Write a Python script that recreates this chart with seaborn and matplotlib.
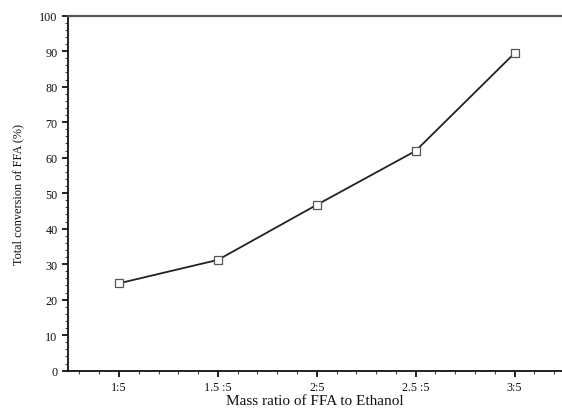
import pandas as pd
import seaborn as sns
import matplotlib.pyplot as plt
from matplotlib.ticker import MultipleLocator

# Data
ffa_mass = [1.0, 1.5, 2.0, 2.5, 3.0]
ratio_labels = ["1:5", "1.5 :5", "2:5", "2.5 :5", "3:5"]
conversion = [24.6, 31.2, 46.7, 61.9, 89.4]

df = pd.DataFrame({"ffa": ffa_mass, "conversion": conversion})

sns.set_style("ticks")
plt.rcParams['font.family'] = ['Liberation Serif', 'DejaVu Serif']

fig = plt.figure(figsize=(5.62, 4.10), dpi=100)
ax = fig.add_axes([0.121, 0.0935, 0.879, 0.866])

sns.lineplot(data=df, x="ffa", y="conversion", ax=ax, color="#222222", linewidth=1.3,
             marker="s", markersize=5.5, markerfacecolor="white",
             markeredgecolor="#555555", markeredgewidth=0.9)

ax.set_xlim(0.742, 3.24)
ax.set_ylim(0, 100)
ax.set_xticks(ffa_mass)
ax.set_xticklabels(ratio_labels)
ax.xaxis.set_minor_locator(MultipleLocator(0.1))
ax.yaxis.set_major_locator(MultipleLocator(10))
ax.yaxis.set_minor_locator(MultipleLocator(2))
ax.tick_params(axis="both", which="major", direction="out", length=4.5, width=1.3,
               labelsize=8.7, colors="#111111", pad=3)
ax.tick_params(axis="both", which="minor", direction="out", length=2.2, width=0.8,
               colors="#444444")

ax.set_xlabel("Mass ratio of FFA to Ethanol", fontsize=11, labelpad=1, color="#111111")
ax.set_ylabel("Total conversion of FFA (%)", fontsize=8.8, labelpad=11, color="#111111")

for s in ["left", "bottom"]:
    ax.spines[s].set_color("#111111")
    ax.spines[s].set_linewidth(1.3)
ax.spines["top"].set_color("#555555")
ax.spines["top"].set_linewidth(1.6)
ax.spines["right"].set_visible(False)

fig.savefig("out.png", dpi=100)
